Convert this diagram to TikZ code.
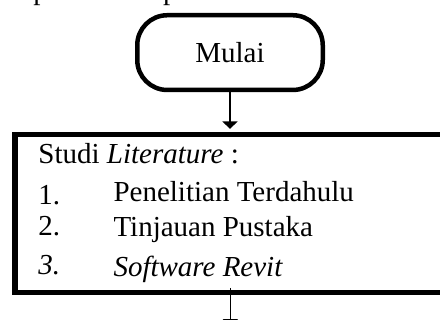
\documentclass[tikz,border=0pt]{standalone}
\usepackage{fontspec}
\setmainfont{Liberation Serif}
\usetikzlibrary{arrows.meta}
\begin{document}
\begin{tikzpicture}[x=0.4pt,y=-0.4pt,
  every node/.style={font=\fontsize{11.6}{14}\selectfont},
  terminal/.style={draw, line width=1.8pt, rounded corners=12pt,
    minimum width=74.2pt, minimum height=29.9pt, inner sep=0pt},
  process/.style={draw, line width=2.3pt,
    minimum width=172.5pt, minimum height=63.2pt, inner sep=0pt},
  txt/.style={anchor=base west, inner sep=0pt},
  flow/.style={line width=0.55pt, -{Triangle[length=3pt,width=6pt]}}]
\useasboundingbox (0,0) rectangle (440,320);
\clip (0,0) rectangle (440,320);

% running text above the chart (only its lowest part lies in view)
\node[txt] (intro) at (5.6,-0.5)
  {\spaceskip=4pt\relax dapat dilihat pada Gambar 3.1 di bawah ini.};

% start terminal
\node[terminal] (mulai) at (230,52.6) {\raisebox{-0.8pt}{Mulai}};

% literature study process box
\node[process] (studi) at (230.35,213.55) {};

\node[txt] (judul) at (38,163) {Studi \textit{Literature} :};
\node[txt] (n1) at (38,204.5) {1.};
\node[txt] (t1) at (113,201.5) {Penelitian Terdahulu};
\node[txt] (n2) at (38,235) {2.};
\node[txt] (t2) at (113,236.5) {Tinjauan Pustaka};
\node[txt] (n3) at (38,274) {\textit{3.}};
\node[txt] (t3) at (113,276) {\textit{Software Revit}};

% connectors
\draw[flow, shorten >=1.1pt] (mulai.south) -- (mulai.south |- studi.north);
\coordinate (lanjut) at ([yshift=-12.5pt]studi.south);
\draw[flow] ([yshift=3pt]studi.south) -- (lanjut);
\end{tikzpicture}
\end{document}
